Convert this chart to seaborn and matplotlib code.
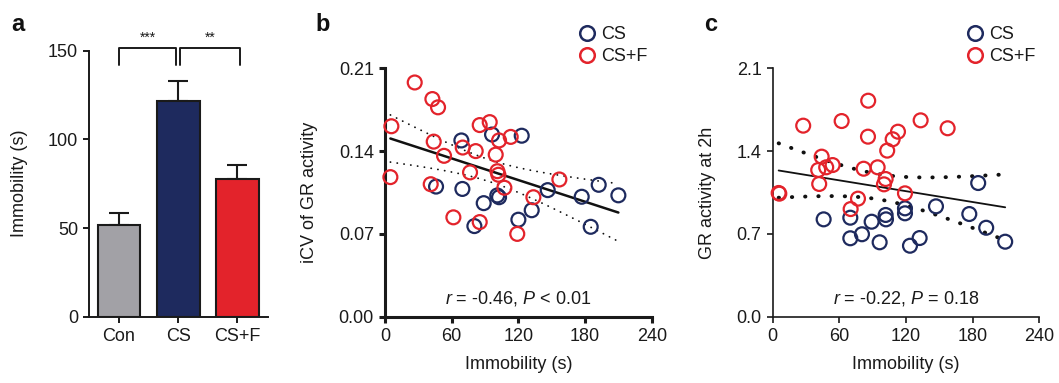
import numpy as np
import pandas as pd
import matplotlib
matplotlib.use("Agg")
import matplotlib.pyplot as plt
import seaborn as sns
from matplotlib.lines import Line2D

# DATA

groups = ["Con", "CS", "CS+F"]
immob_mean = [51.7, 121.6, 77.5]
immob_sem = [6.9, 11.3, 8.0]

# panel b : immobility vs iCV of GR activity
b_cs_x = [68.7, 96.3, 123, 45.9, 69.6, 88.8, 101, 102.6, 80.4, 120, 132, 146.4, 177, 192.3, 210, 185.1]
b_cs_y = [0.149, 0.154, 0.153, 0.110, 0.108, 0.096, 0.1025, 0.101, 0.0766, 0.082, 0.090, 0.107, 0.1014, 0.1115, 0.1026, 0.076]
b_csf_x = [26.7, 42.6, 47.7, 5.7, 43.8, 53.1, 4.8, 41.1, 85.2, 94.2, 69.9, 81.6, 102.6, 113.1,
           99.6, 76.5, 101.1, 102, 107.4, 61.5, 85.2, 119, 156.9, 133.5]
b_csf_y = [0.198, 0.184, 0.177, 0.161, 0.148, 0.136, 0.118, 0.112, 0.162, 0.1645, 0.143, 0.140, 0.149, 0.152,
           0.137, 0.122, 0.123, 0.120, 0.109, 0.084, 0.080, 0.070, 0.116, 0.101]

# panel c : immobility vs GR activity at 2h
c_cs_x = [45.9, 69.9, 89.1, 101.7, 102, 119.1, 119.1, 69.9, 80.4, 96.3, 123.6, 132.3, 147, 185, 177, 192.2, 209.3]
c_cs_y = [0.823, 0.837, 0.803, 0.860, 0.823, 0.916, 0.874, 0.663, 0.697, 0.629, 0.600, 0.665, 0.933, 1.130, 0.868, 0.752, 0.634]
c_csf_x = [86.0, 27.5, 62.1, 85.8, 112.8, 108, 103.1, 44.1, 41.0, 48.2, 54.0, 41.9, 81.9, 94.5,
           101.7, 100.2, 5.4, 6.0, 76.8, 70.2, 119.1, 133.2, 157.5]
c_csf_y = [1.826, 1.615, 1.654, 1.522, 1.564, 1.500, 1.404, 1.353, 1.240, 1.263, 1.282, 1.122, 1.251, 1.263,
           1.164, 1.119, 1.046, 1.040, 0.998, 0.910, 1.043, 1.660, 1.593]

BLUE = "#1e2a5e"
RED = "#e3232b"
GREY = "#a2a1a6"

sns.set_style("ticks")
plt.rcParams["font.family"] = ["Liberation Sans", "DejaVu Sans"]
plt.rcParams["mathtext.fontset"] = "custom"
plt.rcParams["mathtext.it"] = "Liberation Sans:italic"
plt.rcParams["mathtext.rm"] = "Liberation Sans"
plt.rcParams["text.color"] = "#1a1a1a"
plt.rcParams["axes.labelcolor"] = "#1a1a1a"
plt.rcParams["xtick.color"] = "#1a1a1a"
plt.rcParams["ytick.color"] = "#1a1a1a"

fig = plt.figure(figsize=(10.59, 3.83), dpi=100)
ax_a = fig.add_axes([0.0843, 0.1731, 0.169, 0.6945])
ax_b = fig.add_axes([0.3636, 0.1731, 0.2518, 0.6486])
ax_c = fig.add_axes([0.7296, 0.1731, 0.2518, 0.6486])


def style_axis(ax, lw):
    sns.despine(ax=ax)
    for s in ["left", "bottom"]:
        ax.spines[s].set_linewidth(lw)
        ax.spines[s].set_color("#1a1a1a")
    ax.tick_params(direction="out", length=4.5, width=lw, labelsize=13)


# BAR PANEL

bar_df = pd.DataFrame({"group": groups, "immob": immob_mean})
sns.barplot(data=bar_df, x="group", y="immob", hue="group",
            palette=[GREY, BLUE, RED], saturation=1, width=0.72, edgecolor="#1a1a1a",
            linewidth=1.5, legend=False, ax=ax_a, zorder=2)
ax_a.errorbar(range(3), immob_mean, yerr=[np.zeros(3), immob_sem], fmt="none",
              ecolor="#1a1a1a", elinewidth=1.5, capsize=7, capthick=1.5, zorder=1)
ax_a.set_ylim(0, 150)
ax_a.set_xlim(-0.5, 2.52)
ax_a.set_yticks([0, 50, 100, 150])
ax_a.set_xlabel("")
ax_a.set_ylabel("Immobility (s)", fontsize=13, labelpad=14)
style_axis(ax_a, 1.4)

# significance brackets
for x0, x1, txt in [(0, 0.97, "***"), (1.03, 2.05, "**")]:
    ax_a.plot([x0, x0, x1, x1], [142, 151.7, 151.7, 142], color="#1a1a1a",
              lw=1.4, clip_on=False)
    ax_a.text((x0 + x1) / 2, 157.5, txt, ha="center", va="center", fontsize=10)


# SCATTER PANELS

def scatter_panel(ax, cs_x, cs_y, csf_x, csf_y, ylab, yticks, fmt, dot_lw, dot_gap, line_lw, stat):
    df = pd.DataFrame({
        "imm": cs_x + csf_x,
        "val": cs_y + csf_y,
        "group": ["CS"] * len(cs_x) + ["CS+F"] * len(csf_x),
    })
    sns.scatterplot(data=df, x="imm", y="val", hue="group",
                    palette={"CS": BLUE, "CS+F": RED}, s=100, linewidth=1.6,
                    legend=False, ax=ax, zorder=3, clip_on=False)
    coll = ax.collections[-1]
    cols = coll.get_facecolors()
    coll.set_edgecolors(cols)
    coll.set_facecolor("none")

    # linear fit with 95% confidence band of the mean
    x = df["imm"].to_numpy()
    y = df["val"].to_numpy()
    n = len(x)
    slope, icpt = np.polyfit(x, y, 1)
    resid = y - (slope * x + icpt)
    s = np.sqrt(np.sum(resid ** 2) / (n - 2))
    sxx = np.sum((x - x.mean()) ** 2)
    xs = np.linspace(x.min(), x.max(), 200)
    fit = slope * xs + icpt
    half = 2.02 * s * np.sqrt(1 / n + (xs - x.mean()) ** 2 / sxx)
    ax.plot(xs, fit, color="#111111", lw=line_lw, zorder=2)
    for band in [fit + half, fit - half]:
        ax.plot(xs, band, color="#111111", lw=dot_lw, linestyle=(0, (0.1, dot_gap)),
                dash_capstyle="round", zorder=2)

    ax.set_xlim(0, 240)
    ax.set_xticks([0, 60, 120, 180, 240])
    ax.set_ylim(yticks[0], yticks[-1])
    ax.set_yticks(yticks)
    ax.set_yticklabels([fmt.format(t) for t in yticks])
    ax.set_xlabel("Immobility (s)", fontsize=13, labelpad=8)
    ax.set_ylabel(ylab, fontsize=13, labelpad=15)
    ax.text(0.5, 0.075, stat, transform=ax.transAxes, ha="center", va="center", fontsize=13)

    handles = [Line2D([], [], marker="o", ls="none", mfc="none", mec=BLUE, mew=1.8, ms=10.5),
               Line2D([], [], marker="o", ls="none", mfc="none", mec=RED, mew=1.8, ms=10.5)]
    ax.legend(handles, ["CS", "CS+F"], loc="upper left", bbox_to_anchor=(0.69, 1.2),
              frameon=False, fontsize=13, handletextpad=0.2, labelspacing=0.3,
              borderaxespad=0, handlelength=1.2)


scatter_panel(ax_b, b_cs_x, b_cs_y, b_csf_x, b_csf_y, "iCV of GR activity",
              [0.0, 0.07, 0.14, 0.21], "{:.2f}", 1.3, 3.7, 1.8,
              r"$r$ = -0.46, $P$ < 0.01")
style_axis(ax_b, 2.2)

scatter_panel(ax_c, c_cs_x, c_cs_y, c_csf_x, c_csf_y, "GR activity at 2h",
              [0.0, 0.7, 1.4, 2.1], "{:.1f}", 2.8, 3.3, 1.3,
              r"$r$ = -0.22, $P$ = 0.18")
style_axis(ax_c, 1.2)

# panel letters
for lab, xp in [("a", 0.011), ("b", 0.298), ("c", 0.665)]:
    fig.text(xp, 0.935, lab, fontsize=17, fontweight="bold", color="#111111", va="center")

fig.savefig("out.png", dpi=100)
plt.close(fig)
